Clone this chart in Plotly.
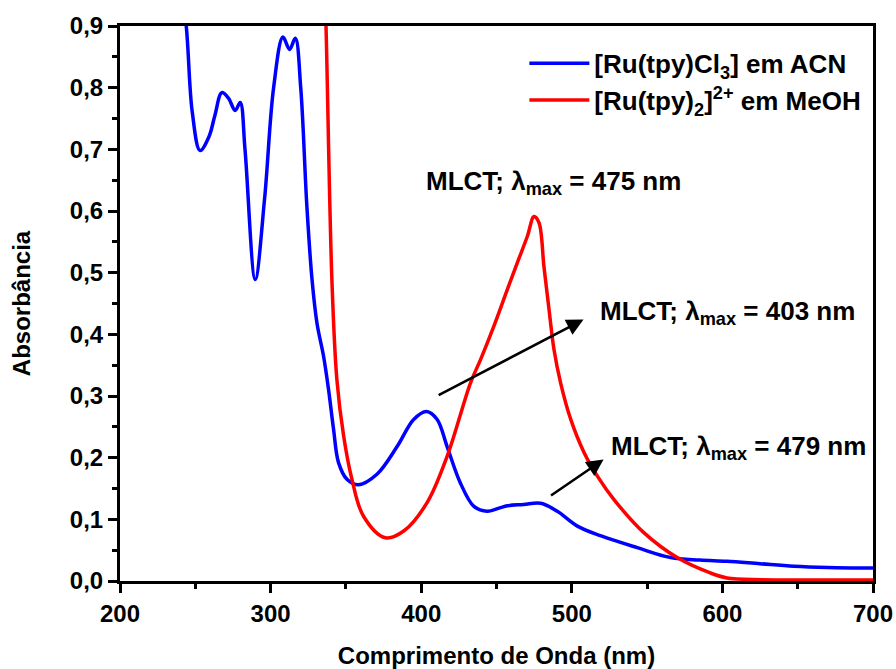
import plotly.graph_objects as go

# Blue: [Ru(tpy)Cl3] in ACN
blue_x = [238, 244, 248, 253.2, 259, 263, 267.6, 272, 276.5, 279.8, 283, 289.8, 296, 302, 308.2, 312.6, 316.4, 320,
          324.1, 327.5, 330.8, 335.2, 338.5, 341.8, 345.1, 350.7, 358.4, 370.6, 384, 395, 403.5, 410.6, 417.2, 426,
          435, 443.8, 452.7, 457.1, 468, 479.3, 490.4, 503.7, 519.5, 543.5, 565.7, 585, 603, 625, 647.5, 670, 700]
blue_y = [1.02, 0.90, 0.76, 0.698, 0.72, 0.755, 0.792, 0.783, 0.763, 0.776, 0.70, 0.489, 0.62, 0.80, 0.882, 0.862, 0.880,
          0.80, 0.607, 0.489, 0.418, 0.364, 0.310, 0.246, 0.192, 0.165, 0.156, 0.173, 0.218, 0.262, 0.275, 0.262,
          0.218, 0.159, 0.121, 0.113, 0.119, 0.122, 0.124, 0.126, 0.113, 0.089, 0.073, 0.054, 0.038, 0.034, 0.032,
          0.028, 0.024, 0.022, 0.021]

# Red: [Ru(tpy)2]2+ in MeOH
red_x = [335, 336.8, 340.7, 344, 348.5, 354, 361.7, 376.2, 388.4, 403.9, 417.2, 432.7, 439.4, 448.2, 457.1, 463.8,
         470.5, 474.9, 478.2, 481.5, 484.9, 488.2, 492.6, 499.3, 508.2, 517, 528, 548, 570, 592, 603, 625.5, 660, 700]
red_y = [1.05, 0.90, 0.489, 0.327, 0.235, 0.165, 0.105, 0.070, 0.081, 0.127, 0.202, 0.321, 0.359, 0.413, 0.472, 0.516,
         0.559, 0.591, 0.581, 0.510, 0.440, 0.375, 0.321, 0.262, 0.208, 0.170, 0.132, 0.078, 0.038, 0.013, 0.005,
         0.002, 0.0015, 0.0015]

x_ticks = [200, 300, 400, 500, 600, 700]
y_ticks = [0.0, 0.1, 0.2, 0.3, 0.4, 0.5, 0.6, 0.7, 0.8, 0.9]

FONT = "Arial, Liberation Sans, sans-serif"
FS = 26

fig = go.Figure()
fig.add_trace(go.Scatter(x=blue_x, y=blue_y, mode="lines", name="[Ru(tpy)Cl<sub>3</sub>] em ACN",
                         line=dict(color="#0000FF", width=3.5, shape="spline", smoothing=1.0)))
fig.add_trace(go.Scatter(x=red_x, y=red_y, mode="lines", name="[Ru(tpy)<sub>2</sub>]<sup>2+</sup> em MeOH",
                         line=dict(color="#FF0000", width=3.5, shape="spline", smoothing=1.0)))

axis_common = dict(showline=True, linecolor="black", linewidth=3, mirror=True, ticks="outside",
                   ticklen=9, tickwidth=3, tickcolor="black", showgrid=False, zeroline=False,
                   automargin=False,
                   tickfont=dict(family=FONT, size=24, color="black", weight="bold"))

fig.update_xaxes(range=[200, 700], tickvals=x_ticks, minor=dict(ticks="outside", ticklen=5, tickwidth=3,
                 tickcolor="black", dtick=50, tick0=200),
                 title=dict(text="Comprimento de Onda (nm)", standoff=26,
                            font=dict(family=FONT, size=24, color="black", weight="bold")),
                 **axis_common)
fig.update_yaxes(range=[0, 0.9], tickvals=y_ticks, tickformat=".1f",
                 minor=dict(ticks="outside", ticklen=5, tickwidth=3, tickcolor="black", dtick=0.05, tick0=0),
                 title=dict(text="Absorbância", standoff=33,
                            font=dict(family=FONT, size=24, color="black", weight="bold")),
                 **axis_common)

afont = dict(family=FONT, size=FS, color="black", weight="bold")
fig.add_annotation(x=487.9, y=0.646, text="MLCT; λ<sub>max</sub> = 475 nm", showarrow=False,
                   xanchor="center", yanchor="middle", font=afont)
fig.add_annotation(x=517.2, y=0.435, text="MLCT; λ<sub>max</sub> = 403 nm", showarrow=False,
                   xanchor="left", yanchor="middle", font=afont)
fig.add_annotation(x=524.5, y=0.216, text="MLCT; λ<sub>max</sub> = 479 nm", showarrow=False,
                   xanchor="left", yanchor="middle", font=afont)
# arrows
fig.add_annotation(x=507.8, y=0.424, ax=410.6, ay=0.300, xref="x", yref="y", axref="x", ayref="y",
                   text="", showarrow=True, arrowhead=2, arrowsize=1.3, arrowwidth=2.6, arrowcolor="black")
fig.add_annotation(x=521.1, y=0.197, ax=485.2, ay=0.137, xref="x", yref="y", axref="x", ayref="y",
                   text="", showarrow=True, arrowhead=2, arrowsize=1.3, arrowwidth=2.6, arrowcolor="black")

fig.update_layout(
    width=896, height=669,
    margin=dict(l=120, r=23, t=26, b=88),
    paper_bgcolor="white", plot_bgcolor="white",
    separators=",.",
    showlegend=True,
    legend=dict(x=0.537, y=0.975, xanchor="left", yanchor="top", bgcolor="rgba(0,0,0,0)",
                font=dict(family=FONT, size=FS, color="black", weight="bold"), itemwidth=60,
                tracegroupgap=0),
)

fig.write_html("out.html")
